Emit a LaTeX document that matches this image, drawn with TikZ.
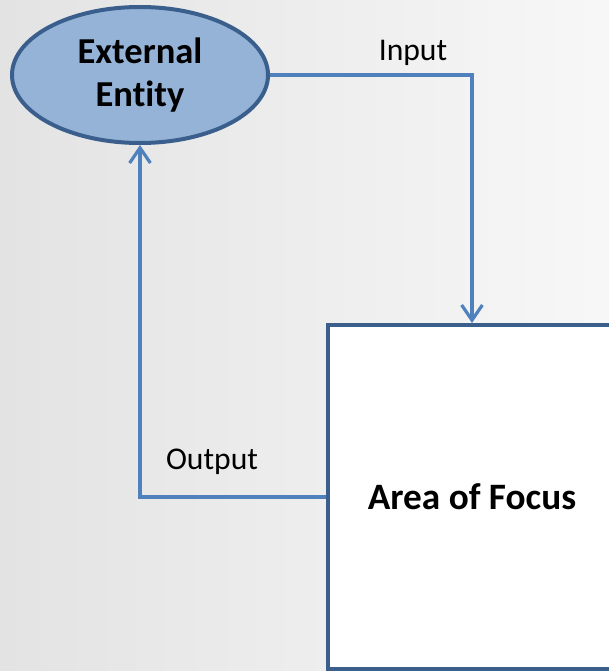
\documentclass[tikz,border=0pt]{standalone}
\usepackage{fontspec}
\setmainfont{Carlito}[Ligatures=NoCommon]
\usetikzlibrary{shapes.geometric,arrows.meta}

\definecolor{flowblue}{HTML}{4F81BD}
\definecolor{edgeblue}{HTML}{3A5F8D}
\definecolor{entityfill}{HTML}{95B3D7}

\begin{document}
\begin{tikzpicture}[
	entity/.style={
		ellipse,
		draw=edgeblue,
		fill=entityfill,
		line width=0.1cm,
		inner sep=0pt,
		minimum width=6.4cm,
		minimum height=3.4cm,
		align=center,
		font=\fontsize{26}{30.6}\selectfont\bfseries,
	},
	focus/.style={
		rectangle,
		draw=edgeblue,
		fill=white,
		line width=0.1cm,
		minimum width=7.2cm,
		minimum height=8.6cm,
		font=\fontsize{26.5}{31}\selectfont\bfseries,
	},
	flowlabel/.style={% labels next to the flows
		inner sep=0pt,
		font=\fontsize{22.5}{27}\selectfont,
	},
	FlowArrow/.style={% Arrows between entity and area
		draw=flowblue,
		line width=0.08cm,
		-{Straight Barb[length=0.38cm,width=0.52cm]},
	},
]
	% grey backdrop, fixes the page size and cuts off the box on the right
	\clip (0,0) rectangle (15.225,-16.775);
	\shade [left color=gray!22, right color=gray!6] (0,0) rectangle (15.225,-16.775);

	\node [entity] (ext) at (3.5,-1.875) {External\\Entity};
	\node [focus] (area) at (11.8,-12.425) {Area of Focus};
	\node [flowlabel] (inlbl) at (10.325,-1.325) {Input};
	\node [flowlabel] (outlbl) at (5.3,-11.55) {Output};

	\draw [FlowArrow] (ext.east) -| (area.north);
	\draw [FlowArrow] (area.west) -| (ext.south);
\end{tikzpicture}
\end{document}
